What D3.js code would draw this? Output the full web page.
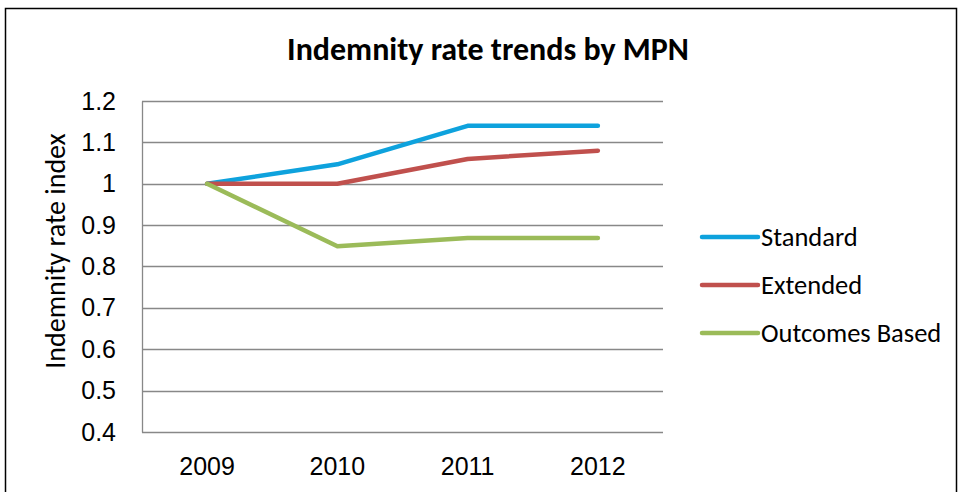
<!DOCTYPE html>
<html>
<head>
<meta charset="utf-8">
<script src="https://cdn.jsdelivr.net/npm/d3@7"></script>
<style>
  html, body { margin: 0; padding: 0; background: #fff; }
  svg { display: block; font-family: Carlito, Calibri, Lato, sans-serif; }
</style>
</head>
<body>
<svg id="chart"></svg>
<script>
// Chart data
const years = ['2009', '2010', '2011', '2012'];
const standard = [1, 1.047, 1.14, 1.14];
const extended = [1, 1, 1.06, 1.08];
const outcomesBased = [1, 0.849, 0.869, 0.869];
const yTicks = [0.4, 0.5, 0.6, 0.7, 0.8, 0.9, 1, 1.1, 1.2];

const series = [
  { name: 'Standard', values: standard, color: '#0ea2dd' },
  { name: 'Extended', values: extended, color: '#c0504d' },
  { name: 'Outcomes Based', values: outcomesBased, color: '#9bbb59' },
];

const width = 959, height = 492;
const margin = { top: 101, right: 296, bottom: 60, left: 142 };

const svg = d3.select('#chart').attr('width', width).attr('height', height);

// Outer chart border
svg.append('rect')
  .attr('x', 5.5).attr('y', 8.5).attr('width', 951).attr('height', 500)
  .attr('fill', 'none').attr('stroke', '#000').attr('stroke-width', 1.5);

const x = d3.scaleBand().domain(years).range([margin.left, width - margin.right]);
const y = d3.scaleLinear().domain([0.4, 1.2]).range([height - margin.bottom, margin.top]);

// Gridlines
svg.append('g')
  .selectAll('line').data(yTicks).join('line')
  .attr('x1', margin.left).attr('x2', width - margin.right)
  .attr('y1', d => Math.round(y(d)) + 0.5).attr('y2', d => Math.round(y(d)) + 0.5)
  .attr('stroke', '#888').attr('stroke-width', 1.3);

// Y axis
const yAxis = svg.append('g')
  .attr('transform', `translate(${margin.left},0)`)
  .call(d3.axisLeft(y).tickValues(yTicks).tickSize(0).tickPadding(26).tickFormat(d => String(+d.toFixed(1))));
yAxis.select('.domain').attr('stroke', '#888').attr('stroke-width', 1.3);
yAxis.selectAll('text').attr('font-size', 25).attr('fill', '#000').attr('font-family', null);

// X axis
const xAxis = svg.append('g')
  .attr('transform', `translate(0,${height - margin.bottom})`)
  .call(d3.axisBottom(x).tickSize(0).tickPadding(25));
xAxis.select('.domain').remove();
xAxis.selectAll('text').attr('font-size', 25).attr('fill', '#000').attr('font-family', null);

// Y axis title
svg.append('text')
  .attr('transform', 'translate(65,251) rotate(-90)')
  .attr('text-anchor', 'middle')
  .attr('font-size', 28)
  .text('Indemnity rate index');

// Title
svg.append('text')
  .attr('x', 488).attr('y', 60)
  .attr('text-anchor', 'middle')
  .attr('font-size', 32).attr('font-weight', 'bold')
  .text('Indemnity rate trends by MPN');

// Lines
const line = d3.line()
  .x((d, i) => x(years[i]) + x.bandwidth() / 2)
  .y(d => y(d));

svg.append('g')
  .selectAll('path').data(series).join('path')
  .attr('d', d => line(d.values))
  .attr('fill', 'none')
  .attr('stroke', d => d.color)
  .attr('stroke-width', 4.5)
  .attr('stroke-linecap', 'round')
  .attr('stroke-linejoin', 'round');

// Legend
const legend = svg.append('g')
  .selectAll('g').data(series).join('g')
  .attr('transform', (d, i) => `translate(702,${237 + i * 48})`);
legend.append('line')
  .attr('x1', 0).attr('x2', 56)
  .attr('stroke', d => d.color).attr('stroke-width', 4.5).attr('stroke-linecap', 'round');
legend.append('text')
  .attr('x', 59).attr('y', 9)
  .attr('font-size', 26.5)
  .text(d => d.name);
</script>
</body>
</html>
